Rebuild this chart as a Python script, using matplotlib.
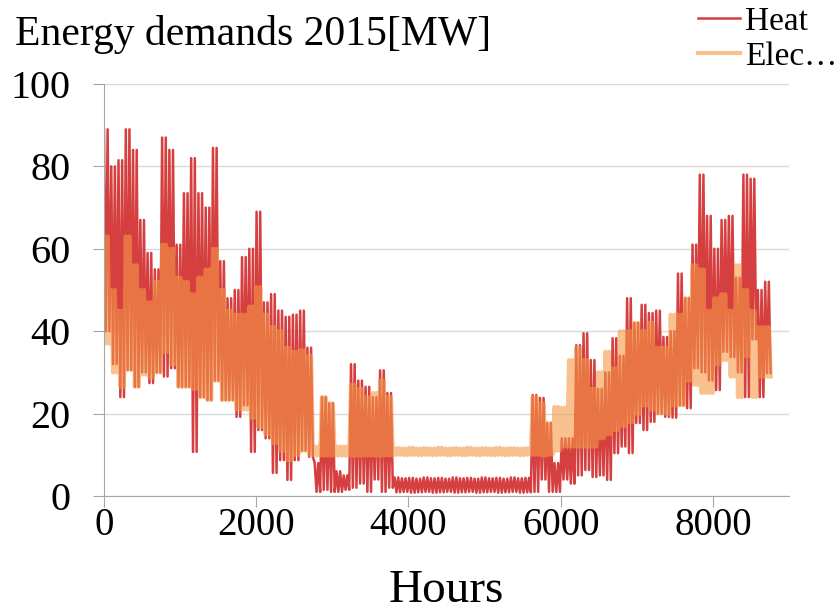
import numpy as np
import matplotlib.pyplot as plt

plt.rcParams['font.family'] = ['Liberation Serif', 'DejaVu Serif']

# upper / lower level of each 96-hour block over the year [MW]
heat_hi = [89, 80, 81.5, 89, 84, 67, 59, 55, 87, 84,
           61, 73.5, 82, 73.5, 70, 84.5, 57, 48, 50, 58,
           60, 69, 47, 49, 45, 43.5, 44, 45, 36, 8,
           24, 22.5, 6, 5, 32, 28, 26.5, 24, 30.5, 25,
           4.5, 4.3, 4.4, 4.2, 4.5, 4.3, 4.4, 4.2, 4.5, 4.3,
           4.4, 4.2, 4.5, 4.3, 4.4, 4.2, 4.5, 4.3, 4.4, 24.5,
           23.8, 17.7, 8, 14, 14, 36.6, 39.5, 33, 26, 30,
           38.3, 34, 48, 42, 46.4, 44.4, 45, 38.6, 40, 54,
           48, 61, 78, 68, 60, 67, 68, 53, 78, 77,
           50, 52]
heat_lo = [40, 32, 24, 30.6, 26.5, 30, 27.4, 30, 29, 31,
           26.5, 26.5, 10.7, 24, 23.3, 28, 23.3, 23.3, 19.2, 22,
           10.7, 16, 14, 5.6, 8.7, 3.9, 8.7, 11, 9.5, 1,
           1.5, 1, 1, 1.5, 2, 3, 1, 4, 1, 2,
           0.9, 1.0, 0.8, 0.9, 1.0, 0.8, 0.9, 1.0, 0.8, 0.9,
           1.0, 0.8, 0.9, 1.0, 0.8, 0.9, 1.0, 0.8, 0.9, 1,
           4, 1, 1, 4, 3, 5, 6.3, 4.6, 5, 3.9,
           10.4, 12, 10.4, 17.7, 16, 18, 20, 19.2, 19, 22,
           21.3, 31, 30, 28, 25.7, 35, 33.7, 30, 24, 38,
           24, 29.8]
elec_hi = [63, 50, 45, 63, 56, 50, 47, 52, 61, 60,
           53, 52, 49, 53, 55, 60, 50, 45, 44, 44,
           46, 50.7, 44, 41, 40, 36, 35, 35.4, 34, 12,
           24, 22.5, 12, 12, 27, 26, 24, 25, 28, 24,
           11.6, 11.5, 11.7, 11.5, 11.6, 11.5, 11.7, 11.5, 11.6, 11.5,
           11.7, 11.5, 11.6, 11.5, 11.7, 11.5, 11.6, 11.5, 11.6, 24,
           22.5, 17.7, 21.6, 21.4, 33, 36, 33, 26, 30, 35,
           31, 40, 40, 42, 40, 42, 36, 36, 44, 44,
           48, 56, 55, 45, 48, 49, 45, 56, 50, 45,
           41, 41]
elec_lo = [37, 30, 26.5, 30.6, 26.5, 29.5, 28.8, 30, 35, 32,
           26.5, 26.5, 26, 24, 23.3, 28, 23.3, 23.3, 21, 21,
           19, 16.8, 15, 12.9, 11, 8.7, 10, 11, 10, 9.8,
           9.8, 9.8, 9.8, 9.8, 9.8, 9.8, 9.8, 9.8, 9.8, 9.8,
           10.0, 9.9, 10.0, 9.9, 10.0, 9.9, 10.0, 9.9, 10.0, 9.9,
           10.0, 9.9, 10.0, 9.9, 10.0, 9.9, 10.0, 9.9, 10.0, 10,
           9.8, 10, 11, 12, 12, 12, 12, 12, 14, 15,
           16, 17, 18, 20, 22, 21, 20, 20, 22, 22,
           28, 27, 25, 25, 32, 33, 29, 24, 34, 24,
           29, 29]


def load_curve(hi, lo, swings=2):
    # high/low swings inside each block
    vals = []
    for h, l in zip(hi, lo):
        vals += [h, l] * swings
    return np.array(vals)


heat = load_curve(heat_hi, heat_lo)
elec = load_curve(elec_hi, elec_lo)
hours = np.linspace(0, 8759, len(heat))

fig = plt.figure(figsize=(8.38, 6.14), dpi=100)
ax = fig.add_axes([0.1241, 0.1922, 0.8174, 0.6710])

ax.plot(hours, heat, color='#d63f3f', lw=1.8, label='Heat')
ax.plot(hours, elec, color='#f59846', alpha=0.6, lw=3.0, label='Elec…')

ax.set_xlim(0, 9000)
ax.set_ylim(0, 100)
ax.set_xticks([0, 2000, 4000, 6000, 8000])
ax.set_yticks([0, 20, 40, 60, 80, 100])
ax.grid(axis='y', color='#d9d9d9', lw=1)
ax.set_axisbelow(True)
for s in ['top', 'right']:
    ax.spines[s].set_visible(False)
for s in ['left', 'bottom']:
    ax.spines[s].set_color('#a6a6a6')
ax.tick_params(axis='both', labelsize=28, length=8, color='#a6a6a6')
ax.tick_params(axis='y', labelsize=29, pad=16)
ax.tick_params(axis='x', pad=0)

fig.text(0.532, 0.02, 'Hours', fontsize=34, ha='center', va='baseline')
fig.text(0.018, 0.927, 'Energy demands 2015[MW]', fontsize=30, va='baseline')

ax.legend(loc='upper left', bbox_to_anchor=(0.833, 0.99),
          bbox_transform=fig.transFigure, frameon=False, fontsize=24,
          handlelength=1.25, handletextpad=0.15, labelspacing=0.15,
          borderpad=0, borderaxespad=0)

fig.savefig('out.png', dpi=100)
